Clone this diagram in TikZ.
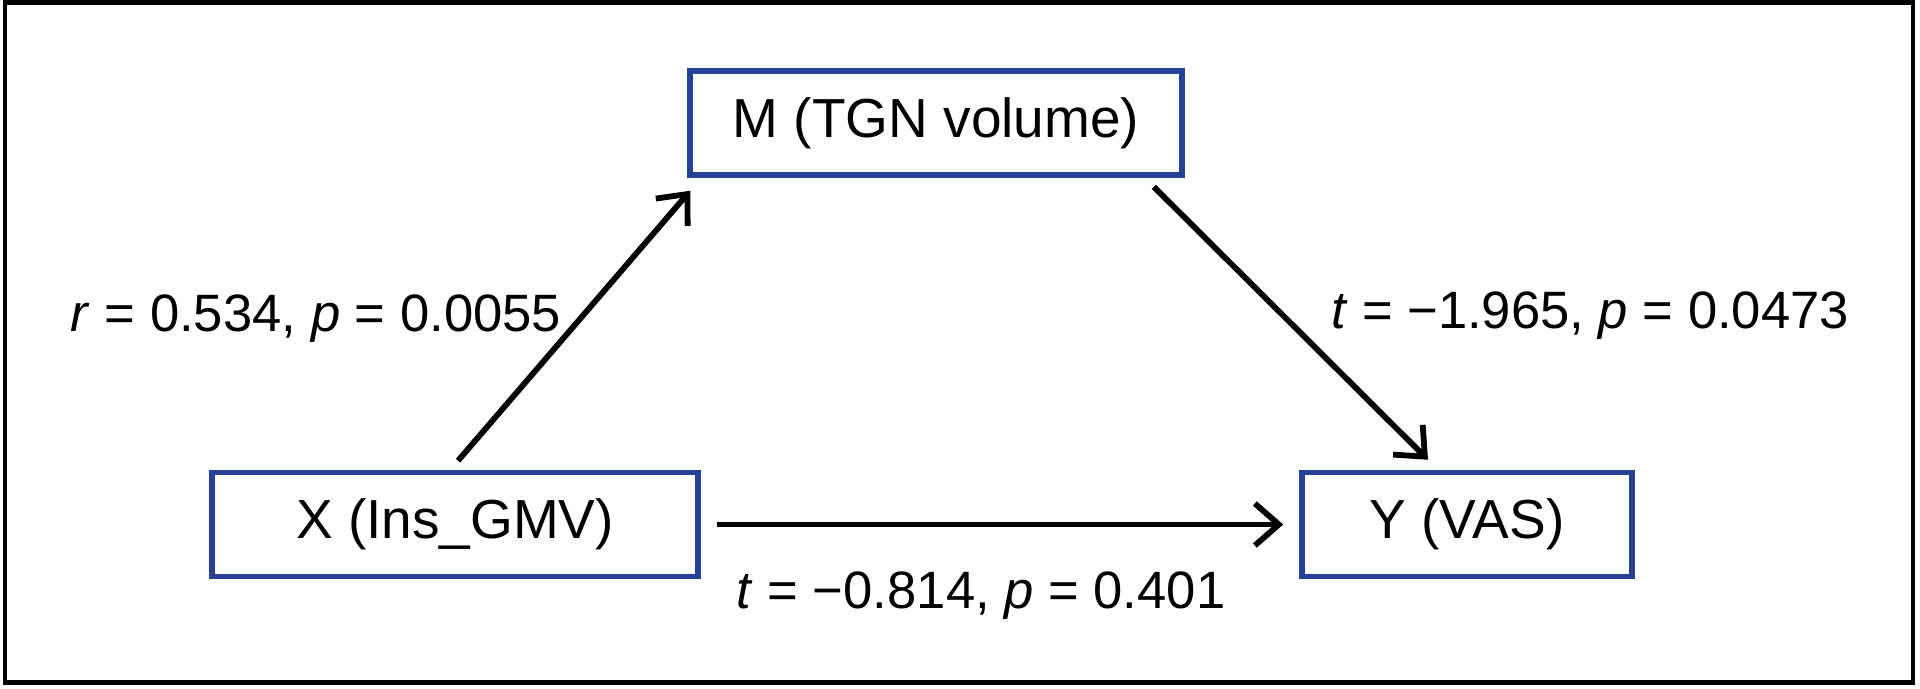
\documentclass[tikz,border=0pt]{standalone}
\usepackage{fontspec}
\setmainfont{Liberation Sans}
\usetikzlibrary{arrows.meta,calc}
\definecolor{boxblue}{RGB}{38,64,150}
\begin{document}
\begin{tikzpicture}[x=0.5pt,y=-0.5pt,
  varbox/.style={draw=boxblue, line width=2.75pt, fill=white, minimum height=52pt, inner sep=0pt, font=\fontsize{27.5}{33}\selectfont},
  lbl/.style={font=\fontsize{26.3}{31}\selectfont, inner sep=0pt},
  conn/.style={line width=2.9pt, -{Straight Barb[length=12pt,width=21pt]}}]
\useasboundingbox (0,0) rectangle (1920,689);
\draw[line width=2.25pt] (5,2.5) rectangle (1913,682.5);
\node[varbox, minimum width=246pt] (M) at (936,123) {M (TGN volume)};
\node[varbox, minimum width=243pt] (X) at (455,524.5) {X (Ins\_GMV)};
\node[varbox, minimum width=165pt] (Y) at (1467,524.5) {Y (VAS)};
\draw[conn] ($(X.north)+(3,-9)$) -- ($(M.south west)+(3,13)$);
\draw[conn] ($(M.south east)+(-31,9)$) -- ($(Y.north)+(-39,-10)$);
\draw[conn] ($(X.east)+(16,0)$) -- ($(Y.west)+(-16,0)$);
\node[lbl] (lr) at (316,319) {\textit{r} = 0.534, \textit{p} = 0.0055};
\node[lbl] (lmy) at (1590,316) {\textit{t} = −1.965, \textit{p} = 0.0473};
\node[lbl] (lxy) at (981,596) {\textit{t} = −0.814, \textit{p} = 0.401};
\end{tikzpicture}
\end{document}
